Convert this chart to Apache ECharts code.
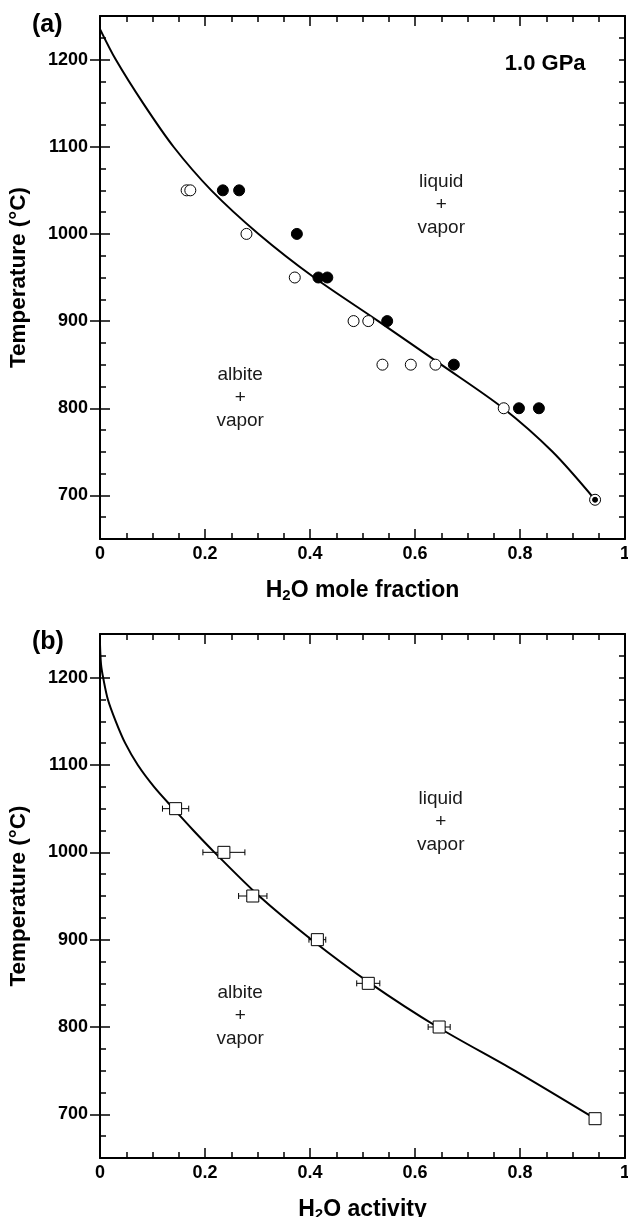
<!DOCTYPE html>
<html>
<head>
<meta charset="utf-8">
<script src="https://cdn.jsdelivr.net/npm/echarts@6/dist/echarts.min.js"></script>
<style>
  html, body { margin: 0; padding: 0; background: #fff; }
  #chart { width: 628px; height: 1217px; }
</style>
</head>
<body>
<div id="chart"></div>
<script>
// (a) H2O mole fraction vs temperature
var openX   = [0.165, 0.172, 0.279, 0.371, 0.483, 0.511, 0.538, 0.592, 0.639, 0.769];
var openT   = [1050, 1050, 1000, 950, 900, 900, 850, 850, 850, 800];
var filledX = [0.234, 0.265, 0.375, 0.416, 0.433, 0.547, 0.674, 0.798, 0.836];
var filledT = [1050, 1050, 1000, 950, 950, 900, 850, 800, 800];
var endX    = [0.943];
var endT    = [695];
var curveAX = [0, 0.03, 0.082, 0.14, 0.212, 0.302, 0.408, 0.53, 0.65, 0.768, 0.862, 0.943];
var curveAT = [1235, 1200, 1150, 1100, 1050, 1000, 950, 900, 850, 800, 750, 695];

// (b) H2O activity vs temperature
var actX    = [0.144, 0.236, 0.291, 0.414, 0.511, 0.646, 0.943];
var actT    = [1050, 1000, 950, 900, 850, 800, 695];
var actErr  = [0.025, 0.04, 0.027, 0.016, 0.022, 0.021, 0];
var curveBX = [0, 0.002, 0.006, 0.015, 0.03, 0.048, 0.072, 0.103, 0.14, 0.178, 0.218, 0.303, 0.403, 0.515, 0.643, 0.79, 0.943];
var curveBT = [1238, 1215, 1200, 1175, 1150, 1125, 1100, 1075, 1050, 1025, 1000, 950, 900, 850, 800, 750, 695];

// axis ticks and labels
var xMin = 0, xMax = 1, xStep = 0.2;
var tMin = 650, tMax = 1250, tMinorStep = 25;
var tMajor = [700, 800, 900, 1000, 1100, 1200];

// region labels: [x, T, text]
var regionA = [[0.65, 1034, 'liquid\n+\nvapor'], [0.267, 812, 'albite\n+\nvapor']];
var regionB = [[0.649, 1035, 'liquid\n+\nvapor'], [0.267, 813, 'albite\n+\nvapor']];
var pressA  = [[0.848, 1195, '1.0 GPa']];

var FONT = '"Liberation Sans", Arial, sans-serif';

function zip(xs, ys) {
	var out = [];
	for (var i = 0; i < xs.length; i++) out.push([xs[i], ys[i]]);
	return out;
}

function xAxes(g, name) {
	var base = {
		type: 'value', gridIndex: g, min: xMin, max: xMax, interval: xStep,
		axisLine: { show: true, onZero: false, lineStyle: { color: '#000', width: 2 } },
		axisTick: { show: true, inside: true, length: 10, lineStyle: { color: '#000', width: 1.5 } },
		minorTick: { show: true, splitNumber: 4, length: 6, lineStyle: { color: '#000', width: 1.5 } },
		splitLine: { show: false }
	};
	var bottom = echarts.util.merge({
		position: 'bottom',
		name: name, nameLocation: 'middle', nameGap: 39,
		nameTextStyle: {
			fontFamily: FONT, fontSize: 23, fontWeight: 'bold', color: '#000',
			rich: { sub: { fontFamily: FONT, fontSize: 15, fontWeight: 'bold', color: '#000', padding: [10, 0, 0, 0] } }
		},
		axisLabel: {
			show: true, margin: 6, fontFamily: FONT, fontSize: 18, fontWeight: 'bold', color: '#000',
			formatter: function(v) { return String(+v.toFixed(1)); }
		}
	}, base, false);
	var top = echarts.util.merge({ position: 'top', axisLabel: { show: false } }, base, false);
	return [bottom, top];
}

function yAxes(g) {
	var shortT = {
		type: 'value', gridIndex: g, min: tMin, max: tMax, interval: tMinorStep,
		axisLine: { show: true, onZero: false, lineStyle: { color: '#000', width: 2 } },
		axisTick: { show: true, inside: true, length: 6, lineStyle: { color: '#000', width: 1.5 } },
		axisLabel: { show: false },
		splitLine: { show: false }
	};
	var longT = {
		type: 'value', gridIndex: g, min: tMin, max: tMax, interval: tMinorStep,
		axisLine: { show: false },
		axisTick: { show: true, inside: true, length: 10, customValues: tMajor, lineStyle: { color: '#000', width: 1.5 } },
		axisLabel: { show: false },
		splitLine: { show: false }
	};
	var left = echarts.util.merge({
		position: 'left',
		name: 'Temperature (°C)', nameLocation: 'middle', nameGap: 70,
		nameTextStyle: { fontFamily: FONT, fontSize: 22.5, fontWeight: 'bold', color: '#000' },
		axisLabel: {
			show: true, margin: 12, fontFamily: FONT, fontSize: 18, fontWeight: 'bold', color: '#000',
			formatter: function(v) { return v % 100 === 0 && v >= 700 && v <= 1200 ? String(v) : ''; }
		}
	}, shortT, false);
	var leftLong  = echarts.util.merge({ position: 'left' }, longT, false);
	var right     = echarts.util.merge({ position: 'right', axisLabel: { show: false } }, shortT, false);
	var rightLong = echarts.util.merge({ position: 'right' }, longT, false);
	return [left, leftLong, right, rightLong];
}

function textSeries(xi, yi, items, size, weight, color) {
	return {
		type: 'scatter', xAxisIndex: xi, yAxisIndex: yi,
		symbolSize: 1, itemStyle: { color: 'rgba(0,0,0,0)', opacity: 1 },
		silent: true, z: 5,
		data: items.map(function(d) { return { value: [d[0], d[1]], name: d[2] }; }),
		label: {
			show: true, position: 'inside', formatter: '{b}', opacity: 1,
			fontFamily: FONT, fontSize: size, fontWeight: weight, lineHeight: 23, color: color
		}
	};
}

function marker(xi, yi, data, symbol, size, fill, z) {
	return {
		type: 'scatter', xAxisIndex: xi, yAxisIndex: yi, data: data,
		symbol: symbol, symbolSize: size, z: z, silent: true,
		itemStyle: { color: fill, borderColor: '#000', borderWidth: 1, opacity: 1 }
	};
}

var errData = [];
for (var i = 0; i < actX.length; i++) {
	if (actErr[i] > 0) errData.push([actX[i] - actErr[i], actX[i] + actErr[i], actT[i]]);
}

var chart = echarts.init(document.getElementById('chart'), null, { renderer: 'canvas' });

var option = {
	backgroundColor: '#fff',
	animation: false,
	title: [
		{ text: '(a)', left: 32, top: 13, padding: 0, textStyle: { fontFamily: FONT, fontSize: 25, fontWeight: 'bold', color: '#000' } },
		{ text: '(b)', left: 32, top: 630, padding: 0, textStyle: { fontFamily: FONT, fontSize: 25, fontWeight: 'bold', color: '#000' } }
	],
	grid: [
		{ left: 100, top: 16, width: 525, height: 523, outerBoundsMode: 'none', containLabel: false },
		{ left: 100, top: 634, width: 525, height: 524, outerBoundsMode: 'none', containLabel: false }
	],
	xAxis: [].concat(xAxes(0, 'H{sub|2}O mole fraction'), xAxes(1, 'H{sub|2}O activity')),
	yAxis: [].concat(yAxes(0), yAxes(1)),
	series: [
		// (a)
		{
			type: 'line', xAxisIndex: 0, yAxisIndex: 0, data: zip(curveAX, curveAT),
			smooth: 0.3, showSymbol: false, silent: true, z: 2,
			lineStyle: { color: '#000', width: 2 }
		},
		marker(0, 0, zip(openX, openT), 'circle', 11, '#fff', 3),
		marker(0, 0, zip(filledX, filledT), 'circle', 11, '#000', 3),
		marker(0, 0, zip(endX, endT), 'circle', 11, '#fff', 3),
		marker(0, 0, zip(endX, endT), 'circle', 5, '#000', 4),
		textSeries(0, 0, regionA, 19, 'normal', '#1a1a1a'),
		textSeries(0, 0, pressA, 22, 'bold', '#000'),
		// (b)
		{
			type: 'line', xAxisIndex: 2, yAxisIndex: 4, data: zip(curveBX, curveBT),
			smooth: 0.3, showSymbol: false, silent: true, z: 2,
			lineStyle: { color: '#000', width: 2 }
		},
		{
			type: 'custom', xAxisIndex: 2, yAxisIndex: 4, data: errData, z: 2, silent: true,
			encode: { x: [0, 1], y: 2 },
			renderItem: function(params, api) {
				var lo = api.coord([api.value(0), api.value(2)]);
				var hi = api.coord([api.value(1), api.value(2)]);
				var cap = 3;
				var st = { stroke: '#000', lineWidth: 1 };
				return {
					type: 'group',
					children: [
						{ type: 'line', shape: { x1: lo[0], y1: lo[1], x2: hi[0], y2: hi[1] }, style: st },
						{ type: 'line', shape: { x1: lo[0], y1: lo[1] - cap, x2: lo[0], y2: lo[1] + cap }, style: st },
						{ type: 'line', shape: { x1: hi[0], y1: hi[1] - cap, x2: hi[0], y2: hi[1] + cap }, style: st }
					]
				};
			}
		},
		marker(2, 4, zip(actX, actT), 'rect', 12, '#fff', 3),
		textSeries(2, 4, regionB, 19, 'normal', '#1a1a1a')
	]
};

chart.setOption(option);
</script>
</body>
</html>
